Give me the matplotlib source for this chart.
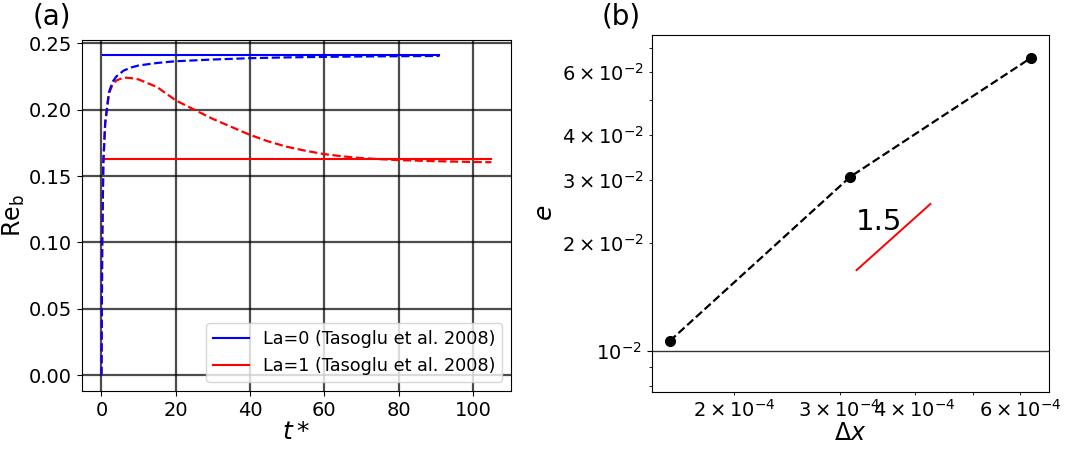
import numpy as np
import matplotlib
matplotlib.use("Agg")
import matplotlib.pyplot as plt

# ---------------------------------------------------------------
# (a) bubble Reynolds number vs time
# ---------------------------------------------------------------
ref_la0 = 0.241          # Tasoglu et al. 2008, La=0
ref_la0_t = [0.3, 91.0]
ref_la1 = 0.163          # Tasoglu et al. 2008, La=1
ref_la1_t = [0.3, 105.0]

t_la0 = [0, 0.2, 0.5, 1, 2, 3, 4, 6, 8, 10, 15, 20, 30, 40, 50, 60, 70, 80, 91]
re_la0 = [0, 0.10, 0.16, 0.19, 0.213, 0.221, 0.225, 0.2295, 0.2318, 0.2333, 0.2352,
          0.2365, 0.2378, 0.2388, 0.2394, 0.2398, 0.2401, 0.2403, 0.2405]

t_la1 = [0, 0.2, 0.5, 1, 2, 3, 4, 6, 8, 10, 15, 20, 25, 30, 35, 40, 45, 50, 55, 60,
         65, 70, 75, 80, 90, 100, 105]
re_la1 = [0, 0.10, 0.16, 0.19, 0.212, 0.219, 0.222, 0.2242, 0.2238, 0.2228, 0.217,
          0.207, 0.200, 0.193, 0.187, 0.181, 0.176, 0.172, 0.169, 0.1665, 0.1648,
          0.1635, 0.1627, 0.1620, 0.1612, 0.1606, 0.1604]

# ---------------------------------------------------------------
# (b) convergence
# ---------------------------------------------------------------
dx = [1.5625e-4, 3.125e-4, 6.25e-4]
err = [0.01066, 0.0306, 0.0656]
slope_x = [3.2e-4, 4.25e-4]
slope_y = [0.0168, 0.0257]

fig = plt.figure(figsize=(10.8, 4.51), dpi=100)
ax1 = fig.add_axes([0.0759, 0.133, 0.3972, 0.7783])
ax2 = fig.add_axes([0.6034, 0.1315, 0.3679, 0.7909])

# panel a
ax1.plot(ref_la0_t, [ref_la0, ref_la0], 'b-', lw=1.5, label='La=0 (Tasoglu et al. 2008)')
ax1.plot(ref_la1_t, [ref_la1, ref_la1], 'r-', lw=1.5, label='La=1 (Tasoglu et al. 2008)')
ax1.plot(t_la1, re_la1, 'r--', lw=1.6)
ax1.plot(t_la0, re_la0, 'b--', lw=1.6)
ax1.set_xticks([0, 20, 40, 60, 80, 100])
ax1.set_yticks([0.0, 0.05, 0.10, 0.15, 0.20, 0.25])
ax1.set_ylim(-0.012, 0.2525)
ax1.set_xlim(-5.25, 110.25)
ax1.grid(True, color='k', lw=1.6, alpha=0.7)
ax1.tick_params(labelsize=14)
ax1.set_xlabel(r'$t*$', fontsize=18, labelpad=0)
ax1.set_ylabel(r'Re$_\mathrm{b}$', fontsize=17, labelpad=1)
ax1.legend(loc='lower right', fontsize=12.7)
ax1.text(-0.07, 1.068, '(a)', transform=ax1.transAxes, fontsize=20,
         ha='center', va='center')

# panel b
ax2.loglog(dx, err, 'k--o', lw=1.6, ms=7)
ax2.plot(slope_x, slope_y, 'r-', lw=1.4)
ax2.text(3.19e-4, 0.0229, '1.5', fontsize=21, ha='left', va='center')
ax2.set_ylim(0.0077, 0.076)
ax2.grid(True, color='k', lw=1.0, alpha=0.8)
ax2.tick_params(which='both', labelsize=14)
ax2.set_xlabel(r'$\Delta x$', fontsize=17, labelpad=0)
ax2.set_ylabel(r'$e$', fontsize=18)
ax2.text(-0.077, 1.053, '(b)', transform=ax2.transAxes, fontsize=20,
         ha='center', va='center')

fig.savefig('out.png', dpi=100)
